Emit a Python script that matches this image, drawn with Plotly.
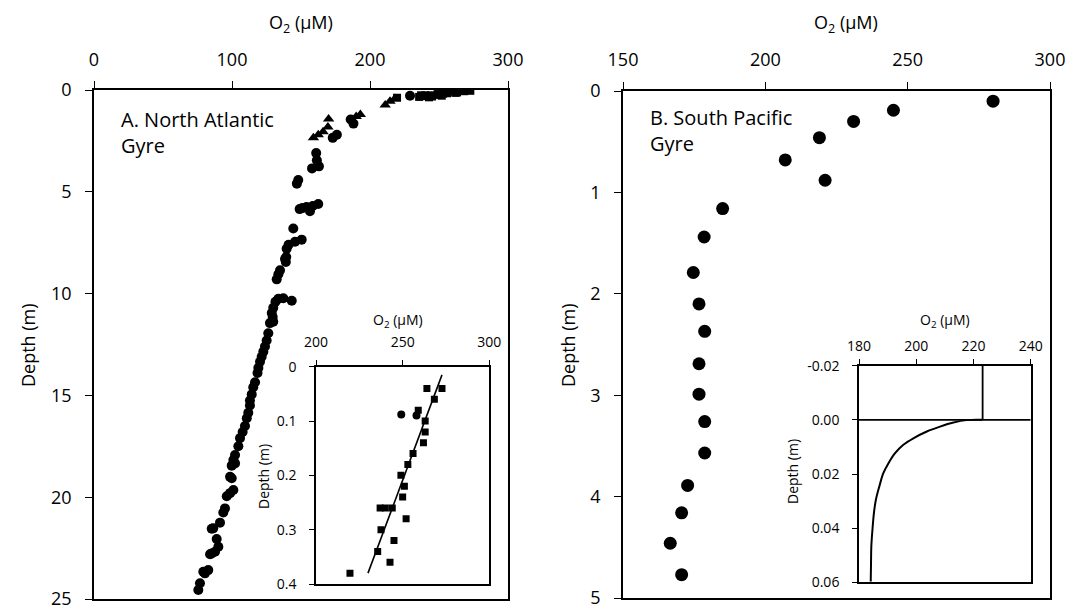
import plotly.graph_objects as go

# ---------------- Data ----------------
# Panel A (North Atlantic Gyre) main profile
a_circle_o2 = [229, 186, 188, 176, 173, 161, 161.5, 163, 158, 148, 147,
               149, 154, 158.5, 162.5, 156.5, 151, 144.4, 141, 145.7, 150.5, 139.6,
               138.4, 139.3, 139, 134.8, 133.6, 132.4, 131.5, 133.6, 137.2, 143.3,
               129.9, 128.8, 129.5, 127.5, 129.9, 126.3, 125.1, 123.9, 122.7, 121.5,
               120.3, 119.1, 118.5, 116.7, 115.4, 114.3, 113, 113, 111.8, 110.7,
               109.4, 107.7, 105.8, 104.6, 102.2, 101, 102.2, 99.8, 98.6, 99.8, 101,
               98.6, 96.2, 94.9, 93.7, 91.3, 86.4, 85.3, 88.9, 90.1, 84.1, 85.3, 87.7,
               82.8, 80.4, 79.2, 76.8, 75.6]
a_circle_depth = [0.28, 1.45, 1.65, 2.2, 2.35, 3.1, 3.45, 3.75, 3.85, 4.42, 4.6,
                  5.85, 5.75, 5.7, 5.6, 5.95, 5.8, 6.8, 7.6, 7.45, 7.35, 7.8,
                  8.3, 8.2, 8.45, 8.85, 9.05, 9.3, 10.4, 10.25, 10.23, 10.35,
                  10.7, 10.95, 11.15, 11.45, 11.38, 11.95, 12.3, 12.6, 12.85, 13.1,
                  13.35, 13.65, 13.9, 14.35, 14.6, 14.95, 15.25, 15.5, 15.85, 16.12,
                  16.5, 16.8, 17.1, 17.5, 17.93, 18.17, 18.34, 18.45, 19.0, 19.07, 19.65,
                  19.8, 19.95, 20.55, 20.75, 21.25, 21.53, 21.55, 22.05, 22.43, 22.8, 22.76, 22.68,
                  23.58, 23.74, 23.66, 24.23, 24.56]
a_triangle_o2 = [211, 214.5, 218, 193, 190, 170, 169.5, 166, 162.5, 159]
a_triangle_depth = [0.74, 0.55, 0.42, 1.2, 1.3, 1.42, 1.82, 2.05, 2.2, 2.34]

# Panel A inset (top 0.4 m)
ins_a_square_o2 = [264, 272.7, 268.3, 259, 263, 263, 262, 256, 253, 249, 251, 250,
                   237, 240, 244, 252, 237.5, 245, 235.6, 242.7, 219.6]
ins_a_square_depth = [0.04, 0.04, 0.06, 0.08, 0.10, 0.12, 0.14, 0.16, 0.18, 0.20, 0.22, 0.24,
                      0.26, 0.26, 0.26, 0.28, 0.30, 0.32, 0.34, 0.36, 0.38]
ins_a_circle_o2 = [249.2, 258]
ins_a_circle_depth = [0.088, 0.09]
ins_a_fit_o2 = [272.7, 230]
ins_a_fit_depth = [0.015, 0.38]

# Panel B (South Pacific Gyre)
b_o2 = [280, 245, 231, 219, 207, 221, 185, 178.5, 174.7, 176.7, 178.7, 176.7,
        176.7, 178.7, 178.7, 172.7, 170.6, 166.6, 170.6]
b_depth = [0.10, 0.19, 0.30, 0.46, 0.68, 0.88, 1.16, 1.44, 1.79, 2.10, 2.37, 2.69,
           2.99, 3.26, 3.57, 3.89, 4.16, 4.46, 4.77]

# Panel B inset (microprofile)
ins_b_curve_o2 = [223.2, 217.6, 213.0, 208.3, 203.7, 199.0, 195.5, 192.6, 190.3,
                  188.5, 187.1, 185.9, 185.2, 184.7, 184.3, 184.2, 184.1]
ins_b_curve_depth = [0.0, 0.0001, 0.0010, 0.0025, 0.0043, 0.0068, 0.0092, 0.0123, 0.0160,
                     0.0197, 0.0246, 0.0295, 0.0345, 0.0406, 0.0468, 0.0529, 0.0597]
ins_b_water_o2 = [223.2, 223.2]
ins_b_water_depth = [-0.02, 0.0]
ins_b_interface_o2 = [180, 240]
ins_b_interface_depth = [0.0, 0.0]

# Tick labels
a_xticks = [0, 100, 200, 300]
a_yticks = [0, 5, 10, 15, 20, 25]
b_xticks = [150, 200, 250, 300]
b_yticks = [0, 1, 2, 3, 4, 5]
ins_a_xticks = [200, 250, 300]
ins_a_yticks = [0, 0.1, 0.2, 0.3, 0.4]
ins_b_xticks = [180, 200, 220, 240]
ins_b_yticks = [-0.02, 0.0, 0.02, 0.04, 0.06]
ins_b_ytext = ["-0.02", "0.00", "0.02", "0.04", "0.06"]

O2_TITLE = "O<sub>2</sub> (μM)"
DEPTH_TITLE = "Depth (m)"
PANEL_A = "A. North Atlantic<br>Gyre"
PANEL_B = "B. South Pacific<br>Gyre"

# ---------------- Figure ----------------
W, H = 1070, 607
FONT = "Open Sans"
fig = go.Figure()

def px_x(p):
    return p / W

def px_y(p):
    return 1 - p / H

black = "black"
# Panel A main
fig.add_trace(go.Scatter(x=a_circle_o2, y=a_circle_depth, mode="markers",
                         marker=dict(symbol="circle", size=10, color=black),
                         xaxis="x", yaxis="y"))
fig.add_trace(go.Scatter(x=a_triangle_o2, y=a_triangle_depth, mode="markers",
                         marker=dict(symbol="triangle-up", size=10, color=black),
                         xaxis="x", yaxis="y"))
fig.add_trace(go.Scatter(x=ins_a_square_o2, y=ins_a_square_depth, mode="markers",
                         marker=dict(symbol="square", size=8, color=black),
                         xaxis="x", yaxis="y"))
# Panel A inset
fig.add_trace(go.Scatter(x=ins_a_fit_o2, y=ins_a_fit_depth, mode="lines",
                         line=dict(color=black, width=1.6),
                         xaxis="x2", yaxis="y2"))
fig.add_trace(go.Scatter(x=ins_a_square_o2, y=ins_a_square_depth, mode="markers",
                         marker=dict(symbol="square", size=7, color=black),
                         xaxis="x2", yaxis="y2"))
fig.add_trace(go.Scatter(x=ins_a_circle_o2, y=ins_a_circle_depth, mode="markers",
                         marker=dict(symbol="circle", size=8, color=black),
                         xaxis="x2", yaxis="y2"))
# Panel B main
fig.add_trace(go.Scatter(x=b_o2, y=b_depth, mode="markers",
                         marker=dict(symbol="circle", size=13, color=black),
                         xaxis="x3", yaxis="y3"))
# Panel B inset
fig.add_trace(go.Scatter(x=ins_b_interface_o2, y=ins_b_interface_depth, mode="lines",
                         line=dict(color=black, width=1.6), xaxis="x4", yaxis="y4"))
fig.add_trace(go.Scatter(x=ins_b_water_o2, y=ins_b_water_depth, mode="lines",
                         line=dict(color=black, width=1.8), xaxis="x4", yaxis="y4"))
fig.add_trace(go.Scatter(x=ins_b_curve_o2, y=ins_b_curve_depth, mode="lines",
                         line=dict(color=black, width=2, shape="spline"),
                         xaxis="x4", yaxis="y4"))

main_tick_font = dict(family=FONT, size=18, color=black)
ins_tick_font = dict(family=FONT, size=14, color=black)

def xax(dom, rng, ticks, anchor, tickfont, ticklen, lblstand):
    return dict(domain=dom, range=rng, side="top", anchor=anchor, automargin=False,
                tickvals=ticks, ticks="outside", ticklen=ticklen, tickwidth=1.3, tickcolor=black,
                ticklabelstandoff=lblstand, ticklabeloverflow="allow",
                showline=True, linecolor=black, linewidth=1.6, mirror=True,
                showgrid=False, zeroline=False, tickfont=tickfont)

def yax(dom, rng, ticks, anchor, tickfont, ticklen, lblstand, ticktext=None):
    d = dict(domain=dom, range=rng, anchor=anchor, automargin=False,
             tickvals=ticks, ticks="outside", ticklen=ticklen, tickwidth=1.3, tickcolor=black,
             ticklabelstandoff=lblstand, ticklabeloverflow="allow",
             showline=True, linecolor=black, linewidth=1.6, mirror=True,
             showgrid=False, zeroline=False, tickfont=tickfont)
    if ticktext is not None:
        d["ticktext"] = ticktext
    return d

fig.update_layout(
    width=W, height=H, margin=dict(l=0, r=0, t=0, b=0),
    paper_bgcolor="white", plot_bgcolor="white", showlegend=False,
    font=dict(family=FONT, color=black),
    xaxis=xax([px_x(94), px_x(508)], [0, 300], a_xticks, "y", main_tick_font, 7, 8),
    yaxis=yax([px_y(599), px_y(90)], [25, 0], a_yticks, "x", main_tick_font, 7, 10),
    xaxis2=xax([px_x(316), px_x(489.3)], [200, 300], ins_a_xticks, "y2", ins_tick_font, 5, 7),
    yaxis2=yax([px_y(584), px_y(366.7)], [0.4, 0], ins_a_yticks, "x2", ins_tick_font, 5, 10),
    xaxis3=xax([px_x(623), px_x(1050)], [150, 300], b_xticks, "y3", main_tick_font, 7, 9),
    yaxis3=yax([px_y(598), px_y(91)], [5, 0], b_yticks, "x3", main_tick_font, 7, 10),
    xaxis4=xax([px_x(859), px_x(1030.7)], [180, 240], ins_b_xticks, "y4", ins_tick_font, 5, 2),
    yaxis4=yax([px_y(582.3), px_y(365.7)], [0.06, -0.02], ins_b_yticks, "x4", ins_tick_font, 5, 10, ins_b_ytext),
)

def label(text, x, y, size, angle=0):
    fig.add_annotation(text=text, xref="paper", yref="paper", x=px_x(x), y=px_y(y),
                       xanchor="center", yanchor="middle", showarrow=False, textangle=angle,
                       font=dict(family=FONT, size=size, color=black))

# axis titles
label(O2_TITLE, 301, 23, 18)
label(O2_TITLE, 846, 23, 18)
label(DEPTH_TITLE, 28, 345, 18, -90)
label(DEPTH_TITLE, 568, 345, 18, -90)
label(O2_TITLE, 398, 320, 14)
label(DEPTH_TITLE, 263, 477, 14, -90)
label(O2_TITLE, 945, 320, 14)
label(DEPTH_TITLE, 792, 472, 14, -90)

# panel labels
fig.add_annotation(text=PANEL_A, xref="paper", yref="paper",
                   x=px_x(119), y=px_y(104), xanchor="left", yanchor="top", align="left",
                   showarrow=False, font=dict(family=FONT, size=20, color=black))
fig.add_annotation(text=PANEL_B, xref="paper", yref="paper",
                   x=px_x(648), y=px_y(102), xanchor="left", yanchor="top", align="left",
                   showarrow=False, font=dict(family=FONT, size=20, color=black))

fig.write_html("out.html", config={"displayModeBar": False},
               post_script="document.body.style.margin='0';document.body.style.overflow='hidden';")
